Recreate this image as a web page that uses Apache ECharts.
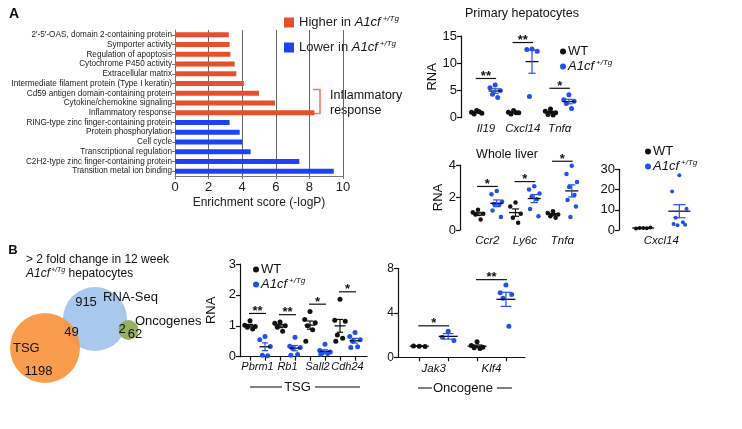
<!DOCTYPE html>
<html><head><meta charset="utf-8">
<script src="https://cdn.jsdelivr.net/npm/echarts@6/dist/echarts.min.js"></script>
<style>html,body{margin:0;padding:0;background:#fff}#c{width:742px;height:429px}</style>
</head><body><div id="c"></div>
<script>
const FONT = "'Liberation Sans', Arial, Helvetica, sans-serif";
// ---- Panel A: enrichment bars ----
const upTerms = ["2'-5'-OAS, domain 2-containing protein","Symporter activity","Regulation of apoptosis","Cytochrome P450 activity","Extracellular matrix","Intermediate filament protein (Type I keratin)","Cd59 antigen domain-containing protein","Cytokine/chemokine signaling","Inflammatory response"];
const upScores = [3.2,3.25,3.3,3.55,3.65,4.1,5.0,5.95,8.3];
const downTerms = ["RING-type zinc finger-containing protein","Protein phosphorylation","Cell cycle","Transcriptional regulation","C2H2-type zinc finger-containing protein","Transition metal ion binding"];
const downScores = [3.25,3.85,4.0,4.5,7.4,9.45];
// ---- Primary hepatocytes ----
const primaryGenes = ['Il19','Cxcl14','Tnfα'];
const primaryWT = [[1.3,1.0,0.8,0.7,1.1],[1.3,1.0,0.9,0.7,0.9],[1.6,1.2,0.9,0.6,0.5]];
const primaryTg = [[6.0,5.5,5.0,4.3,3.7],[12.6,12.5,12.2,3.9],[4.2,3.3,3.0,2.6,1.7]];
const primarySig = ['**','**','*'];
// ---- Whole liver ----
const liverGenes = ['Ccr2','Ly6c','Tnfα'];
const liverWT = [[1.25,1.1,1.0,0.95,0.65],[1.7,1.45,1.0,0.75,0.45],[1.15,1.05,0.95,0.85,0.75]];
const liverTg = [[2.4,2.2,1.75,1.6,1.55,1.2,0.8],[2.7,2.5,2.25,2.05,1.9,1.3,0.85],[3.95,3.45,2.95,2.65,2.15,1.85,1.45,0.8]];
const liverSig = ['*','*','*'];
const liverCxclGenes = ['Cxcl14'];
const liverCxclWT = [[1.0,0.8,1.2,1.0,0.9]];
const liverCxclTg = [[27,19,10.5,6,3.8,3,2.6,2.4]];
// ---- Panel B ----
const vennSets = ['TSG','RNA-Seq','Oncogenes'];
const vennCounts = {tsgOnly:1198, rnaOnly:915, oncOnly:62, tsgRna:49, rnaOnc:2};
const tsgGenes = ['Pbrm1','Rb1','Sall2','Cdh24'];
const tsgWT = [[1.16,1.02,0.98,0.95,0.9],[1.12,1.08,1.0,0.95,0.82],[1.46,1.2,1.1,1.0,0.87,0.5],[1.86,1.18,1.15,0.7,0.6,0.5]];
const tsgTg = [[0.65,0.55,0.33,0.05,0.03],[0.63,0.34,0.3,0.27,0.07,0.05],[0.4,0.2,0.15,0.12,0.1,0.08],[0.78,0.65,0.55,0.5,0.32,0.3]];
const tsgSig = ['**','**','*','*'];
const oncGenes = ['Jak3','Klf4'];
const oncWT = [[1.0,1.02,0.98],[1.4,1.05,0.9,0.85,0.8]];
const oncTg = [[2.35,1.8,1.5],[6.5,5.8,5.65,5.3,2.8]];
const oncSig = ['*','**'];

const WTC = '#111111', TGC = '#2150ee';
const RED = '#e8502c', BLUE = '#1f42f5';

function mean(a){return a.reduce((s,v)=>s+v,0)/a.length;}
function sem(a){const m=mean(a);const v=a.reduce((s,x)=>s+(x-m)*(x-m),0)/(a.length-1);return Math.sqrt(v/a.length);}
const JIT=[0,-1,1,-0.5,0.5,-0.8,0.8,-0.25];
function jitter(vals, slot, amp){return vals.map((v,i)=>[slot+JIT[i%JIT.length]*amp, v]);}

function meanSeries(gi, rows, color, w){
  return {type:'custom', name:'stat', xAxisIndex:gi, yAxisIndex:gi, z:4, silent:true,
    encode:{x:0,y:[1,2,3]}, data:rows,
    renderItem:(params, api)=>{
      const x=api.value(0);
      const pm=api.coord([x,api.value(1)]), pl=api.coord([x,api.value(2)]), ph=api.coord([x,api.value(3)]);
      const hw=w/2, cw=w*0.28;
      return {type:'group', children:[
        {type:'line', shape:{x1:pm[0]-hw,y1:pm[1],x2:pm[0]+hw,y2:pm[1]}, style:{stroke:'#111',lineWidth:1.3}},
        {type:'line', shape:{x1:pl[0],y1:pl[1],x2:ph[0],y2:ph[1]}, style:{stroke:color,lineWidth:1.2}},
        {type:'line', shape:{x1:pl[0]-cw,y1:pl[1],x2:pl[0]+cw,y2:pl[1]}, style:{stroke:color,lineWidth:1.2}},
        {type:'line', shape:{x1:ph[0]-cw,y1:ph[1],x2:ph[0]+cw,y2:ph[1]}, style:{stroke:color,lineWidth:1.2}}
      ]};
    }};
}
function sigSeries(gi, rows, labels){
  return {type:'custom', name:'sig', xAxisIndex:gi, yAxisIndex:gi, z:4, silent:true,
    encode:{x:[0,1],y:2}, data:rows,
    renderItem:(params, api)=>{
      const a=api.coord([api.value(0),api.value(2)]), b=api.coord([api.value(1),api.value(2)]);
      return {type:'group', children:[
        {type:'line', shape:{x1:a[0]-1,y1:a[1],x2:b[0]+1,y2:b[1]}, style:{stroke:'#111',lineWidth:1.2}},
        {type:'text', x:(a[0]+b[0])/2, y:a[1]-2, style:{text:labels[params.dataIndex], fill:'#111', font:'bold 13px '+FONT, textAlign:'center', textVerticalAlign:'middle'}}
      ]};
    }};
}
function buildPanel(p){
  const s=[];
  const wtPts=[], tgPts=[];
  p.wt.forEach((vals,g)=>wtPts.push(...jitter(vals,2*g+1,p.amp)));
  p.tg.forEach((vals,g)=>tgPts.push(...jitter(vals,2*g+2,p.amp)));
  s.push({type:'scatter', name:'WT', xAxisIndex:p.gi, yAxisIndex:p.gi, data:wtPts, symbolSize:p.dot, itemStyle:{color:WTC,opacity:1}, z:3, silent:true, clip:false});
  s.push({type:'scatter', name:'Tg', xAxisIndex:p.gi, yAxisIndex:p.gi, data:tgPts, symbolSize:p.dot, itemStyle:{color:TGC,opacity:1}, z:3, silent:true, clip:false});
  const stat=(arrs,off)=>arrs.map((vals,g)=>{const m=mean(vals), e=sem(vals); return [2*g+off,m,m-e,m+e];});
  s.push(meanSeries(p.gi, stat(p.wt,1), WTC, p.meanW));
  s.push(meanSeries(p.gi, stat(p.tg,2), TGC, p.meanW));
  if(p.sig){
    const rows=p.sig.map((_,g)=>[2*g+1,2*g+2,Math.max(...p.wt[g],...p.tg[g])+p.pad*p.ymax]);
    s.push(sigSeries(p.gi, rows, p.sig));
  }
  return s;
}

function geneXAxis(gi, genes, min, max, showLine, margin, fs){
  const ticks=[]; for(let i=1;i<=genes.length*2;i++) ticks.push(i);
  return {gridIndex:gi, type:'value', min:min, max:max,
    axisLine:{show:showLine, lineStyle:{color:'#111',width:1.2}},
    axisTick:{show:showLine, customValues:ticks, length:4, lineStyle:{color:'#111',width:1.2}},
    splitLine:{show:false},
    axisLabel:{customValues:genes.map((_,g)=>2*g+1.5), formatter:v=>genes[Math.round((v-1.5)/2)]||'',
      hideOverlap:false, showMinLabel:true, showMaxLabel:true,
      fontSize:fs||11.5, fontStyle:'italic', margin:margin, fontFamily:FONT, color:'#111'}};
}
function valYAxis(gi, max, interval, name, gap, fs){
  return {gridIndex:gi, type:'value', min:0, max:max, interval:interval,
    name:name||'', nameLocation:'middle', nameGap:gap||0, nameTextStyle:{fontSize:13, fontFamily:FONT, color:'#111'},
    axisLine:{show:true, lineStyle:{color:'#111',width:1.2}},
    axisTick:{show:true, length:4, lineStyle:{color:'#111',width:1.2}},
    splitLine:{show:false},
    axisLabel:{fontSize:fs||12.5, margin:4, fontFamily:FONT, color:'#111'}};
}
const richA1 = {
  i:{fontStyle:'italic', fontSize:13, fontFamily:FONT, color:'#111'},
  s:{fontStyle:'italic', fontSize:8, fontFamily:FONT, color:'#111', padding:[0,0,7,2]}
};
function scatterLegend(left, top){
  return {left:left, top:top, orient:'vertical', itemWidth:6, itemHeight:6, itemGap:1, icon:'circle',
    data:['WT','Tg'], selectedMode:false,
    formatter:n=> n==='WT' ? 'WT' : '{i|A1cf}{s|+/Tg}',
    textStyle:{fontSize:13, fontFamily:FONT, color:'#111', padding:[0,0,0,-3], rich:richA1}};
}

const cats = upTerms.concat(downTerms);
const upData = cats.map((c,i)=> i<upTerms.length ? upScores[i] : '-');
const downData = cats.map((c,i)=> i>=upTerms.length ? downScores[i-upTerms.length] : '-');

const series = [
  {type:'bar', name:'Higher', xAxisIndex:0, yAxisIndex:0, data:upData, barWidth:5, barGap:'-100%', itemStyle:{color:RED}, silent:true},
  {type:'bar', name:'Lower', xAxisIndex:0, yAxisIndex:0, data:downData, barWidth:5, barGap:'-100%', itemStyle:{color:BLUE}, silent:true},
  ...buildPanel({gi:1, wt:primaryWT, tg:primaryTg, sig:primarySig, ymax:15, pad:0.08, amp:0.28, meanW:13, dot:5}),
  ...buildPanel({gi:2, wt:liverWT, tg:liverTg, sig:liverSig, ymax:4, pad:0.07, amp:0.28, meanW:13, dot:4.5}),
  ...buildPanel({gi:3, wt:liverCxclWT, tg:liverCxclTg, sig:null, ymax:30, pad:0, amp:0.2, meanW:22, dot:4}),
  ...buildPanel({gi:4, wt:tsgWT, tg:tsgTg, sig:tsgSig, ymax:3, pad:0.08, amp:0.35, meanW:11, dot:5}),
  ...buildPanel({gi:5, wt:oncWT, tg:oncTg, sig:oncSig, ymax:8, pad:0.06, amp:0.2, meanW:19, dot:5})
];

const grids = [
  {left:175, top:30, width:168, height:146},
  {left:461, top:36, width:119, height:81.7},
  {left:460, top:165, width:123, height:65},
  {left:619, top:169.3, width:82, height:60.7},
  {left:240, top:264, width:127, height:92.7},
  {left:398, top:268.3, width:127, height:89}
].map(g=>Object.assign(g,{containLabel:false, outerBoundsMode:'none'}));

const xAxes = [
  {gridIndex:0, type:'value', min:0, max:10, interval:2,
   name:'Enrichment score (-logP)', nameLocation:'middle', nameGap:21, nameTextStyle:{fontSize:12, fontFamily:FONT, color:'#222'},
   axisLine:{show:true, lineStyle:{color:'#777', width:1}}, axisTick:{show:true, length:3, lineStyle:{color:'#777'}},
   splitLine:{show:true, lineStyle:{color:'#666', width:1}},
   axisLabel:{fontSize:13, margin:5, fontFamily:FONT, color:'#222'}},
  geneXAxis(1, primaryGenes, 0.15, 6.6, false, 5, 11.5),
  geneXAxis(2, liverGenes, 0.04, 6.6, false, 5, 11.5),
  geneXAxis(3, liverCxclGenes, 0.33, 2.6, false, 5, 11.5),
  geneXAxis(4, tsgGenes, 0.333, 8.8, true, 5, 11),
  geneXAxis(5, oncGenes, 0.263, 4.66, true, 5, 11.5)
];
const yAxes = [
  {gridIndex:0, type:'category', inverse:true, data:cats,
   axisLine:{show:true, lineStyle:{color:'#777', width:1}}, axisTick:{show:true, length:3, alignWithLabel:true, lineStyle:{color:'#777'}},
   axisLabel:{fontSize:8.2, margin:3, fontFamily:FONT, color:'#222', interval:0, overflow:'none', width:300, hideOverlap:false}},
  valYAxis(1, 15, 5, 'RNA', 20, 13),
  valYAxis(2, 4, 2, 'RNA', 13, 13),
  valYAxis(3, 30, 10, '', 0, 13),
  valYAxis(4, 3, 1, 'RNA', 22, 13),
  valYAxis(5, 8, 4, '', 0, 12)
];

function txt(x, y, text, opts){
  return {type:'text', x:x, y:y, silent:true,
    style:Object.assign({text:text, fill:'#111', font:'13px '+FONT, textAlign:'center', textVerticalAlign:'middle'}, opts||{})};
}
function seg(x1,y1,x2,y2,color,w){
  return {type:'line', silent:true, shape:{x1,y1,x2,y2}, style:{stroke:color||'#555', lineWidth:w||1.5}};
}

const graphic = [
  txt(14, 14, 'A', {font:'bold 14px '+FONT}),
  txt(13, 250, 'B', {font:'bold 13px '+FONT}),
  {type:'polyline', silent:true, shape:{points:[[313,89.5],[320,89.5],[320,113.5],[313,113.5]]}, style:{stroke:'#f07a68', fill:null, lineWidth:1.6}},
  txt(330, 96, 'Inflammatory', {textAlign:'left', font:'12.5px '+FONT}),
  txt(330, 111, 'response', {textAlign:'left', font:'12.5px '+FONT}),
  txt(522, 14, 'Primary hepatocytes', {font:'12.5px '+FONT}),
  txt(507, 155, 'Whole liver', {font:'12.5px '+FONT}),
  txt(26, 260, '> 2 fold change in 12 week', {textAlign:'left', font:'12px '+FONT}),
  {type:'text', x:26, y:274, silent:true, style:{text:'{i|A1cf}{s|+/Tg}{n| hepatocytes}', textAlign:'left', textVerticalAlign:'middle',
    rich:{i:{fontStyle:'italic', fontSize:12, fontFamily:FONT, fill:'#111'}, s:{fontStyle:'italic', fontSize:7, fontFamily:FONT, fill:'#111', padding:[0,0,7,1]}, n:{fontSize:12, fontFamily:FONT, fill:'#111'}}}},
  {type:'circle', silent:true, shape:{cx:95, cy:319, r:32}, style:{fill:'#a9c8ee'}},
  {type:'circle', silent:true, shape:{cx:128.5, cy:330, r:10}, style:{fill:'#8fad58', opacity:0.95}},
  {type:'circle', silent:true, shape:{cx:45, cy:348, r:35}, style:{fill:'#f7923a', opacity:0.9}},
  txt(86, 302, String(vennCounts.rnaOnly)),
  txt(103, 297, vennSets[1], {textAlign:'left'}),
  txt(135, 321, vennSets[2], {textAlign:'left'}),
  txt(122, 329, String(vennCounts.rnaOnc)),
  txt(135, 334, String(vennCounts.oncOnly)),
  txt(71.5, 332.5, String(vennCounts.tsgRna)),
  txt(13, 348, vennSets[0], {textAlign:'left'}),
  txt(38.5, 371, String(vennCounts.tsgOnly)),
  seg(250, 387, 282, 387), txt(297.5, 387, 'TSG'), seg(315, 387, 360, 387),
  seg(418, 388, 432, 388), txt(463, 388, 'Oncogene'), seg(497, 388, 512, 388)
];

const chart = echarts.init(document.getElementById('c'), null, {renderer:'canvas'});
chart.setOption({
  animation:false,
  backgroundColor:'#fff',
  textStyle:{fontFamily:FONT},
  grid:grids, xAxis:xAxes, yAxis:yAxes, series:series, graphic:graphic,
  legend:[
    {left:279, top:10, orient:'vertical', itemWidth:10, itemHeight:10, itemGap:11, icon:'rect', selectedMode:false,
     data:['Higher','Lower'],
     formatter:n=> (n==='Higher'?'Higher in ':'Lower in ')+'{i|A1cf}{s|+/Tg}',
     textStyle:{fontSize:13, fontFamily:FONT, color:'#222', rich:richA1}},
    scatterLegend(555, 40),
    scatterLegend(640, 140),
    scatterLegend(248, 258)
  ]
});
</script></body></html>
